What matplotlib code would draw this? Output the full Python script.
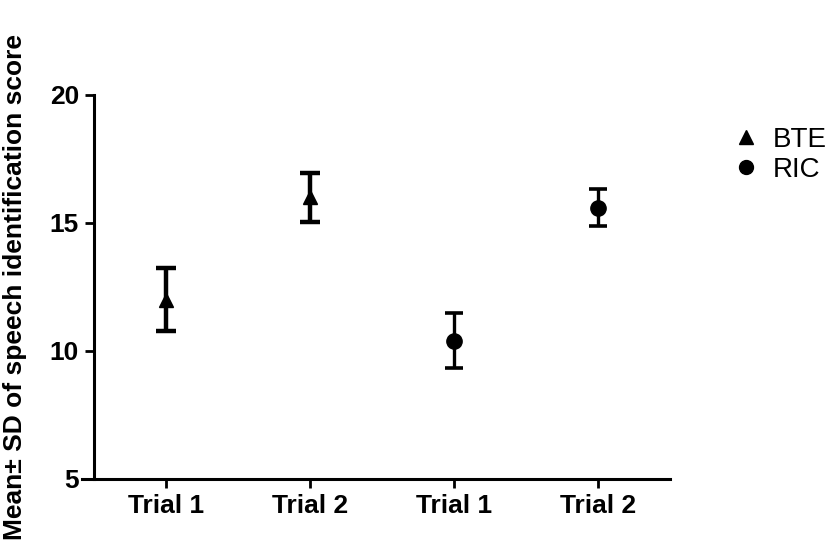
import matplotlib
matplotlib.use("Agg")
import matplotlib.pyplot as plt
from matplotlib.lines import Line2D

plt.rcParams['font.family'] = ['Liberation Sans', 'DejaVu Sans']

categories = ["Trial 1", "Trial 2", "Trial 1", "Trial 2"]
bte_means = [12.0, 16.0]
bte_sd = [1.23, 0.95]
ric_means = [10.4, 15.6]
ric_sd = [1.07, 0.72]
yticks = [5, 10, 15, 20]

fig = plt.figure(figsize=(8.32, 5.57), dpi=100)
ax = fig.add_axes([82/832, 1-479/557, 588/832, (479-95)/557])

ax.errorbar([1, 2], bte_means, yerr=bte_sd, fmt='^', color='black',
            markersize=10, elinewidth=3.2, capsize=7.5, capthick=3.2, label='BTE')
ax.errorbar([3, 4], ric_means, yerr=ric_sd, fmt='o', color='black',
            markersize=11, elinewidth=2.4, capsize=6.5, capthick=2.6, label='RIC')

ax.set_xlim(0.42, 4.5)
ax.set_ylim(5, 20)
ax.spines['left'].set_position(('data', 0.5))
ax.spines['top'].set_visible(False)
ax.spines['right'].set_visible(False)
for s in ['left', 'bottom']:
    ax.spines[s].set_linewidth(2.2)
ax.set_xticks([1, 2, 3, 4])
ax.set_xticklabels(categories, fontsize=19, fontweight='bold')
ax.set_yticks(yticks)
ax.set_yticklabels([str(v) for v in yticks], fontsize=19, fontweight='bold')
ax.tick_params(axis='both', length=6.5, width=2, pad=4)
ax.set_ylabel("Mean\u00b1 SD of speech identification score", fontsize=19,
              fontweight='bold')
ax.yaxis.set_label_coords(-0.093, 0.5)

handles = [Line2D([], [], marker='^', color='black', linestyle='none', markersize=10),
           Line2D([], [], marker='o', color='black', linestyle='none', markersize=10)]
fig.legend(handles, ['BTE', 'RIC'], loc='center left', bbox_to_anchor=(702/832, 1-155/557),
           frameon=False, fontsize=20, handletextpad=0.25, labelspacing=0.15,
           handlelength=1.4)

fig.savefig("out.png", dpi=100)
